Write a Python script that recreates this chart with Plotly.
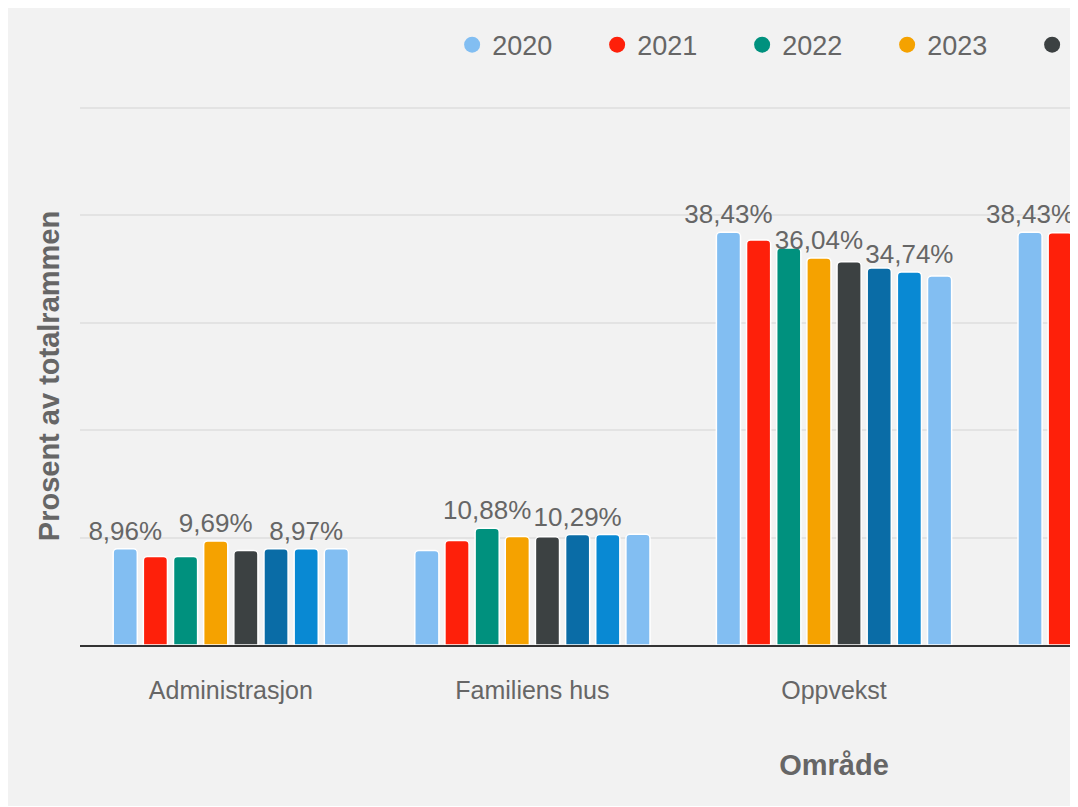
import plotly.graph_objects as go

# Data (percent of total budget frame)
categories = ["Administrasjon", "Familiens hus", "Oppvekst", "Helse"]
years = ["2020", "2021", "2022", "2023", "2024", "2025", "2026", "2027"]

administrasjon = [8.96, 8.24, 8.24, 9.69, 8.80, 8.97, 8.97, 8.96]
familiens_hus = [8.80, 9.73, 10.88, 10.10, 10.08, 10.29, 10.29, 10.31]
oppvekst = [38.43, 37.71, 36.97, 36.04, 35.69, 35.10, 34.74, 34.36]
# only the first two bars of the fourth area are visible in the picture
helse = [38.43, 38.40, None, None, None, None, None, None]

# which bars carry a visible value label (per area, by year)
labelled = {
    "Administrasjon": ["2020", "2023", "2026"],
    "Familiens hus": ["2022", "2025"],
    "Oppvekst": ["2020", "2023", "2026"],
    "Helse": ["2020"],
}

colors = ["#82bef2", "#fe200a", "#00917e", "#f5a200",
          "#3c4142", "#0a6ca6", "#0989d3", "#82bef2"]

series = list(zip(administrasjon, familiens_hus, oppvekst, helse))

FONT = "Liberation Sans, Arial, sans-serif"
GREY_TEXT = "#666666"
BG = "#f2f2f2"

fig = go.Figure()

for i, year in enumerate(years):
    templates = [
        "%{y:.2f}%" if year in labelled[cat] else ""
        for cat in categories
    ]
    fig.add_trace(
        go.Bar(
            x=categories,
            y=list(series[i]),
            name=year,
            marker=dict(color=colors[i], line=dict(color="white", width=1.5),
                        cornerradius=4),
            texttemplate=templates,
            textposition="outside",
            textfont=dict(size=26, color=GREY_TEXT, family=FONT),
            constraintext="none",
            cliponaxis=False,
            showlegend=False,
        )
    )

# circle markers for the legend
for i, year in enumerate(years):
    fig.add_trace(
        go.Scatter(
            x=[None], y=[None], mode="markers", name=year,
            marker=dict(color=colors[i], size=16, symbol="circle"),
        )
    )

fig.update_layout(
    width=1610,
    height=798,
    margin=dict(l=72, r=30, t=99, b=161, autoexpand=False),
    paper_bgcolor=BG,
    plot_bgcolor=BG,
    separators=", ",
    barmode="group",
    bargap=0.2,
    bargroupgap=0.2,
    font=dict(family=FONT, color=GREY_TEXT),
    legend=dict(
        orientation="h",
        x=1.016, xanchor="right",
        y=1.115, yanchor="middle",
        font=dict(size=27, color=GREY_TEXT, family=FONT),
        entrywidth=100,
        bgcolor="rgba(0,0,0,0)",
    ),
)

fig.update_xaxes(
    range=[-0.5, 4.5],
    showline=True, linecolor="#333333", linewidth=2,
    showgrid=False,
    ticks="",
    ticklabelstandoff=22,
    tickfont=dict(size=25, color=GREY_TEXT, family=FONT),
    title=dict(text="<b>Område</b>", standoff=52,
               font=dict(size=29, color=GREY_TEXT, family=FONT)),
)
fig.update_yaxes(
    range=[0, 50.1], tick0=0, dtick=10,
    showticklabels=False,
    showgrid=True, gridcolor="#e3e3e3", gridwidth=2,
    zeroline=False,
    title=dict(text="<b>Prosent av totalrammen</b>", standoff=10,
               font=dict(size=29, color=GREY_TEXT, family=FONT)),
)

fig.write_html("out.html")
